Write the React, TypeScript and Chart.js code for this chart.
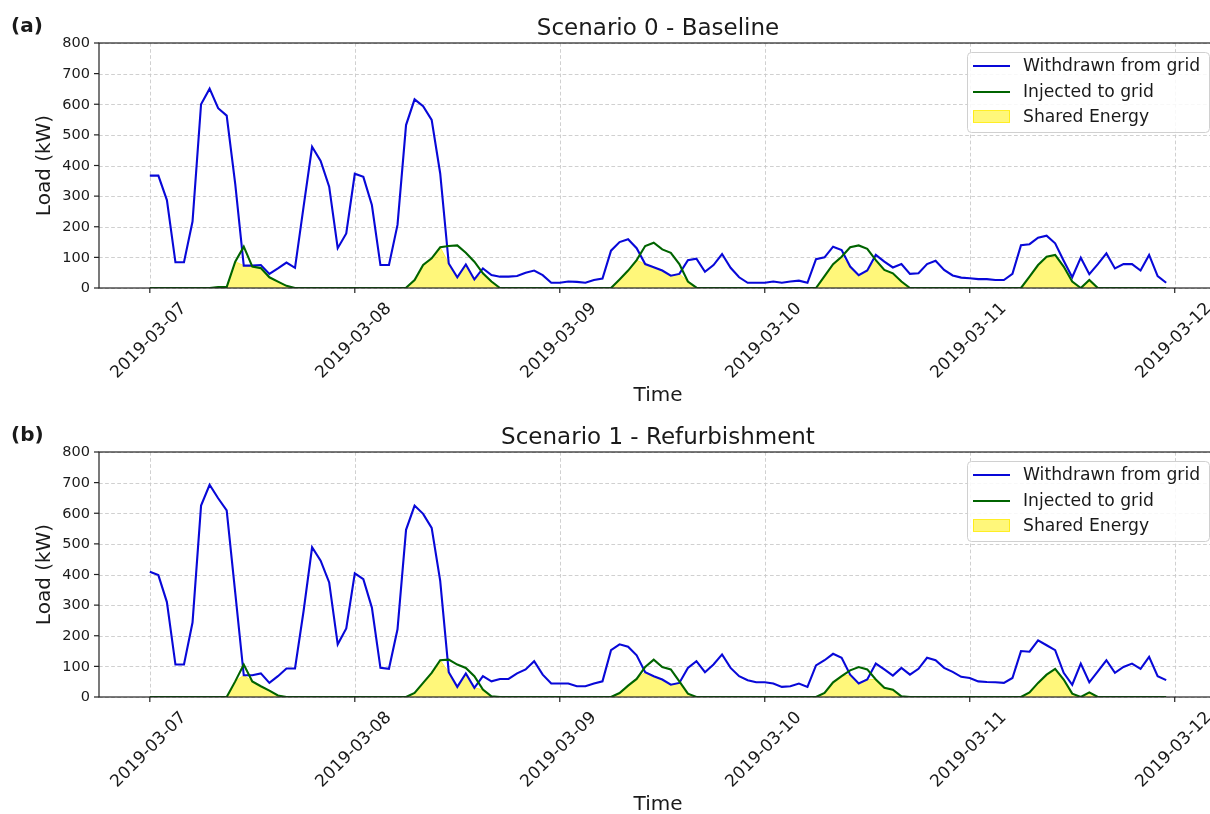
import React, { useEffect, useRef } from 'react';
import { Chart, registerables } from 'chart.js';

Chart.register(...registerables);

// ---------- data (hourly, hours since 2019-03-07 00:00) ----------
const dayTicks = [0, 24, 48, 72, 96, 120];
const dayLabels = ['2019-03-07', '2019-03-08', '2019-03-09', '2019-03-10', '2019-03-11', '2019-03-12'];
const yTicks = [0, 100, 200, 300, 400, 500, 600, 700, 800];
const titles = ['Scenario 0 - Baseline', 'Scenario 1 - Refurbishment'];
const panelTags = ['(a)', '(b)'];
const legendLabels = ['Withdrawn from grid', 'Injected to grid', 'Shared Energy'];
const xAxisTitle = 'Time';
const yAxisTitle = 'Load (kW)';

const withdrawnA = [
  367, 367, 287, 84, 84, 217, 600, 651, 587, 563, 340, 73, 73, 75, 46, 64, 83, 66, 265, 461, 415, 331, 130, 178,
  373, 363, 271, 75, 75, 206, 532, 616, 594, 549, 374, 80, 35, 77, 28, 64, 42, 37, 37, 39, 50, 57, 42, 17,
  17, 21, 20, 17, 26, 31, 122, 150, 159, 130, 78, 68, 57, 40, 46, 91, 96, 53, 75, 111, 66, 35, 17, 17,
  17, 21, 17, 21, 24, 17, 94, 100, 135, 124, 70, 42, 57, 108, 86, 67, 78, 46, 48, 78, 89, 59, 41, 34,
  32, 29, 29, 26, 26, 46, 140, 143, 164, 171, 146, 89, 35, 99, 45, 78, 113, 64, 78, 78, 57, 108, 39, 17,
];
const injectedA = [
  0, 0, 0, 0, 0, 0, 0, 0, 3, 3, 86, 135, 70, 65, 35, 21, 7, 0, 0, 0, 0, 0, 0, 0,
  0, 0, 0, 0, 0, 0, 1, 26, 75, 97, 133, 137, 139, 115, 86, 48, 21, 0, 0, 0, 0, 0, 0, 0,
  0, 0, 0, 0, 0, 0, 0, 28, 57, 91, 137, 148, 126, 115, 78, 21, 1, 0, 0, 0, 0, 0, 0, 0,
  0, 0, 0, 0, 0, 0, 0, 39, 78, 102, 133, 139, 128, 91, 59, 48, 21, 0, 0, 0, 0, 0, 0, 0,
  0, 0, 0, 0, 0, 0, 0, 37, 75, 102, 108, 70, 21, 0, 26, 0, 0, 0, 0, 0, 0, 0, 0, 0,
];
const withdrawnB = [
  409, 398, 310, 106, 106, 243, 625, 693, 649, 609, 341, 71, 71, 77, 46, 68, 93, 93, 280, 489, 445, 374, 172, 224,
  404, 385, 292, 95, 92, 221, 546, 625, 598, 552, 379, 81, 33, 77, 30, 68, 51, 59, 59, 77, 90, 117, 73, 44,
  44, 44, 35, 35, 44, 51, 153, 172, 164, 136, 81, 68, 57, 40, 46, 95, 117, 81, 106, 139, 95, 68, 55, 48,
  48, 44, 33, 35, 44, 33, 103, 120, 141, 128, 73, 44, 57, 109, 90, 70, 95, 73, 92, 128, 120, 95, 82, 66,
  62, 51, 49, 48, 46, 62, 150, 148, 185, 169, 153, 79, 40, 109, 48, 84, 120, 79, 98, 109, 92, 131, 68, 55,
];
const injectedB = [
  0, 0, 0, 0, 0, 0, 0, 0, 0, 0, 51, 106, 51, 35, 21, 5, 0, 0, 0, 0, 0, 0, 0, 0,
  0, 0, 0, 0, 0, 0, 0, 13, 46, 79, 120, 122, 106, 95, 68, 24, 2, 0, 0, 0, 0, 0, 0, 0,
  0, 0, 0, 0, 0, 0, 0, 13, 37, 59, 98, 122, 98, 90, 51, 11, 0, 0, 0, 0, 0, 0, 0, 0,
  0, 0, 0, 0, 0, 0, 0, 13, 48, 68, 87, 98, 90, 57, 30, 24, 2, 0, 0, 0, 0, 0, 0, 0,
  0, 0, 0, 0, 0, 0, 0, 15, 46, 73, 92, 57, 11, 0, 15, 0, 0, 0, 0, 0, 0, 0, 0, 0,
];

// ---------- style ----------
const FONT = '"DejaVu Sans", Verdana, sans-serif';
const BLUE = '#0808d8';
const GREEN = '#006400';
const YELLOW_FILL = 'rgba(255,240,0,0.52)';
const YELLOW_EDGE = 'rgba(255,235,0,0.8)';
const CW = 1230;
const CH = 409;

const toPoints = (arr: number[]) => arr.map((v, i) => ({ x: i, y: v }));

function makeDecor(title: string, tag: string) {
  return {
    id: 'decor',
    beforeDatasetsDraw(chart: any) {
      const { ctx, chartArea: a, scales } = chart;
      const xs = scales.x;
      const ys = scales.y;
      ctx.save();
      ctx.strokeStyle = '#cbcbcb';
      ctx.lineWidth = 0.9;
      ctx.setLineDash([3.7, 2.4]);
      yTicks.forEach((v) => {
        const y = Math.round(ys.getPixelForValue(v)) + 0.5;
        ctx.beginPath();
        ctx.moveTo(a.left, y);
        ctx.lineTo(a.right, y);
        ctx.stroke();
      });
      dayTicks.forEach((v) => {
        const x = Math.round(xs.getPixelForValue(v)) + 0.5;
        ctx.beginPath();
        ctx.moveTo(x, a.top);
        ctx.lineTo(x, a.bottom);
        ctx.stroke();
      });
      ctx.restore();
    },
    afterDatasetsDraw(chart: any) {
      const { ctx, chartArea: a, scales } = chart;
      const xs = scales.x;
      const ys = scales.y;
      ctx.save();
      // spines
      ctx.strokeStyle = '#222';
      ctx.lineWidth = 1.2;
      ctx.strokeRect(a.left, a.top, a.right - a.left, a.bottom - a.top);
      // y ticks
      ctx.fillStyle = '#1a1a1a';
      ctx.font = `14.5px ${FONT}`;
      ctx.textAlign = 'right';
      ctx.textBaseline = 'middle';
      yTicks.forEach((v) => {
        const y = ys.getPixelForValue(v);
        ctx.beginPath();
        ctx.moveTo(a.left - 5, y);
        ctx.lineTo(a.left, y);
        ctx.stroke();
        ctx.fillText(String(v), a.left - 9, y + 0.5);
      });
      // x ticks
      ctx.font = `17px ${FONT}`;
      dayTicks.forEach((v, i) => {
        const x = xs.getPixelForValue(v);
        ctx.beginPath();
        ctx.moveTo(x, a.bottom);
        ctx.lineTo(x, a.bottom + 5);
        ctx.stroke();
        ctx.save();
        ctx.translate(x - 1, a.bottom + 53);
        ctx.rotate(-Math.PI / 4);
        ctx.textAlign = 'center';
        ctx.textBaseline = 'middle';
        ctx.fillText(dayLabels[i], 0, 0);
        ctx.restore();
      });
      // axis titles
      ctx.font = `20px ${FONT}`;
      ctx.textAlign = 'center';
      ctx.textBaseline = 'middle';
      ctx.fillText(xAxisTitle, (a.left + a.right) / 2, 396);
      ctx.save();
      ctx.translate(45, (a.top + a.bottom) / 2);
      ctx.rotate(-Math.PI / 2);
      ctx.fillText(yAxisTitle, 0, 0);
      ctx.restore();
      // title
      ctx.font = `23px ${FONT}`;
      ctx.textBaseline = 'alphabetic';
      ctx.fillText(title, (a.left + a.right) / 2, 35);
      // tag
      ctx.font = `bold 20px ${FONT}`;
      ctx.textAlign = 'left';
      ctx.fillText(tag, 11, 32);
      // legend
      const lx = 967, ly = 52, lw = 242, lh = 80;
      ctx.beginPath();
      ctx.roundRect(lx + 0.5, ly + 0.5, lw, lh, 4);
      ctx.fillStyle = 'rgba(255,255,255,0.85)';
      ctx.fill();
      ctx.strokeStyle = '#d0d0d0';
      ctx.lineWidth = 1;
      ctx.stroke();
      const rows = [66, 92, 117];
      ctx.lineWidth = 2;
      ctx.strokeStyle = BLUE;
      ctx.beginPath();
      ctx.moveTo(973, rows[0]);
      ctx.lineTo(1010, rows[0]);
      ctx.stroke();
      ctx.strokeStyle = GREEN;
      ctx.beginPath();
      ctx.moveTo(973, rows[1]);
      ctx.lineTo(1010, rows[1]);
      ctx.stroke();
      ctx.fillStyle = YELLOW_FILL;
      ctx.fillRect(973, 110.5, 37, 12);
      ctx.strokeStyle = YELLOW_EDGE;
      ctx.lineWidth = 1;
      ctx.strokeRect(973.5, 110.5, 36, 12);
      ctx.fillStyle = '#1a1a1a';
      ctx.font = `17.2px ${FONT}`;
      ctx.textAlign = 'left';
      ctx.textBaseline = 'middle';
      legendLabels.forEach((t, i) => ctx.fillText(t, 1023, rows[i] + 1));
      ctx.restore();
    },
  };
}

function Panel(props: { title: string; tag: string; withdrawn: number[]; injected: number[] }) {
  const ref = useRef<HTMLCanvasElement | null>(null);
  useEffect(() => {
    if (!ref.current) return;
    const shared = props.withdrawn.map((v, i) => Math.min(v, props.injected[i]));
    const chart = new Chart(ref.current, {
      type: 'line',
      data: {
        datasets: [
          {
            label: legendLabels[1],
            data: toPoints(props.injected),
            borderColor: GREEN,
            borderWidth: 2.1,
            pointRadius: 0,
            tension: 0,
            fill: false,
            order: 0,
          },
          {
            label: legendLabels[0],
            data: toPoints(props.withdrawn),
            borderColor: BLUE,
            borderWidth: 2.1,
            pointRadius: 0,
            tension: 0,
            fill: false,
            order: 1,
          },
          {
            label: legendLabels[2],
            data: toPoints(shared),
            borderColor: YELLOW_EDGE,
            backgroundColor: YELLOW_FILL,
            borderWidth: 0.8,
            pointRadius: 0,
            tension: 0,
            fill: 'origin',
            order: 2,
          },
        ],
      },
      options: {
        animation: false,
        responsive: false,
        devicePixelRatio: 1,
        layout: { padding: { left: 99, right: CW - 1217, top: 43, bottom: CH - 288 } },
        plugins: { legend: { display: false }, tooltip: { enabled: false }, title: { display: false } },
        events: [],
        scales: {
          x: { type: 'linear', display: false, min: -5.95, max: 124.95 },
          y: { type: 'linear', display: false, min: 0, max: 800 },
        },
      },
      plugins: [makeDecor(props.title, props.tag)],
    } as any);
    return () => chart.destroy();
  }, []);
  return (
    <canvas
      ref={ref}
      width={CW}
      height={CH}
      style={{ display: 'block', width: CW, height: CH }}
    />
  );
}

export default function App() {
  return (
    <div
      style={{
        position: 'fixed',
        left: 0,
        top: 0,
        width: 1210,
        height: 814,
        overflow: 'hidden',
        background: '#fff',
      }}
    >
      <Panel title={titles[0]} tag={panelTags[0]} withdrawn={withdrawnA} injected={injectedA} />
      <Panel title={titles[1]} tag={panelTags[1]} withdrawn={withdrawnB} injected={injectedB} />
    </div>
  );
}
